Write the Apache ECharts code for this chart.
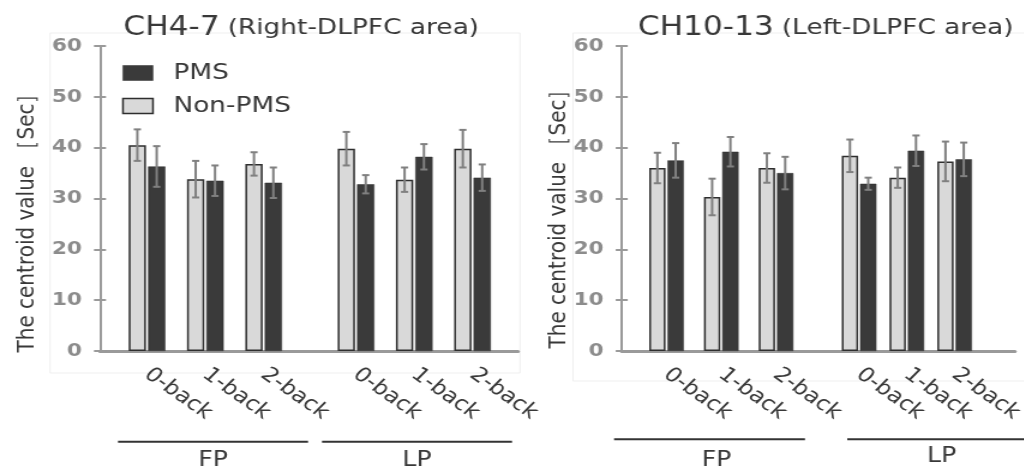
<!DOCTYPE html>
<html>
<head>
<meta charset="utf-8">
<script src="https://cdn.jsdelivr.net/npm/echarts@6/dist/echarts.min.js"></script>
<style>
  html, body { margin: 0; padding: 0; background: #fff; overflow: hidden; }
  #wrap { width: 1024px; height: 472px; overflow: hidden; }
  /* the figure is laid out on a narrower canvas and widened to the page */
  #chart { width: 853.33px; height: 472px; transform: scaleX(1.2); transform-origin: 0 0; }
</style>
</head>
<body>
<div id="wrap"><div id="chart"></div></div>
<script>
// task conditions on the x axis
const categories = ['0-back', '1-back', '2-back'];
const periods = ['FP', 'LP'];

// CH4-7 (right DLPFC): mean centroid value and error, per period
const ch47FpNonPms = [40.5, 33.8, 36.8];
const ch47FpNonPmsErr = [3.1, 3.6, 2.3];
const ch47FpPms = [36.3, 33.5, 33.1];
const ch47FpPmsErr = [4.0, 3.0, 3.0];
const ch47LpNonPms = [39.8, 33.7, 39.8];
const ch47LpNonPmsErr = [3.3, 2.4, 3.7];
const ch47LpPms = [32.8, 38.2, 34.1];
const ch47LpPmsErr = [1.8, 2.5, 2.6];

// CH10-13 (left DLPFC)
const ch1013FpNonPms = [36.0, 30.3, 36.0];
const ch1013FpNonPmsErr = [3.0, 3.6, 2.9];
const ch1013FpPms = [37.5, 39.2, 35.0];
const ch1013FpPmsErr = [3.4, 2.9, 3.2];
const ch1013LpNonPms = [38.4, 34.1, 37.3];
const ch1013LpNonPmsErr = [3.2, 2.0, 3.9];
const ch1013LpPms = [32.9, 39.4, 37.7];
const ch1013LpPmsErr = [1.2, 3.0, 3.3];

const yMin = 0, yMax = 60, yStep = 10;
const yAxisName = 'The centroid value ［Sec］';
const panelTitles = [['CH4-7', '(Right-DLPFC area)'], ['CH10-13', '(Left-DLPFC area)']];

const FONT = 'DejaVu Sans';
const TEXT = '#383838';
const AXIS = '#9a9a9a';
const NON_FILL = '#d9d9d9';
const PMS_FILL = '#3a3a3a';
const ERR = '#808080';

// panel geometry (canvas px)
const TOP = 46, HEIGHT = 305;
const panels = [
  { axisLeft: 83.3, axisRight: 431.7, fp: [98.2, 244.0], lp: [272.4, 418.0], barWidth: 14.4,
    title: panelTitles[0], titleX: 251, nameX: 22.5, nameY: 218,
    data: {
      FP: { non: ch47FpNonPms, nonErr: ch47FpNonPmsErr, pms: ch47FpPms, pmsErr: ch47FpPmsErr },
      LP: { non: ch47LpNonPms, nonErr: ch47LpNonPmsErr, pms: ch47LpPms, pmsErr: ch47LpPmsErr }
    },
    lines: { y: 441.7, FP: [98.3, 256.7], LP: [268.3, 426.7] },
    labels: { FP: [177.5, 461], LP: [347.5, 461] },
    frame: [41.7, 33, 391.6, 340] },
  { axisLeft: 518.1, axisRight: 845.8, fp: [532.6, 669.5], lp: [696.0, 832.8], barWidth: 13.6,
    title: panelTitles[1], titleX: 688, nameX: 466, nameY: 214,
    data: {
      FP: { non: ch1013FpNonPms, nonErr: ch1013FpNonPmsErr, pms: ch1013FpPms, pmsErr: ch1013FpPmsErr },
      LP: { non: ch1013LpNonPms, nonErr: ch1013LpNonPmsErr, pms: ch1013LpPms, pmsErr: ch1013LpPmsErr }
    },
    lines: { y: 439.3, FP: [511.7, 670.8], LP: [706.0, 860] },
    labels: { FP: [597, 461], LP: [784.7, 457] },
    frame: [477.5, 33, 400, 348] }
];

const BAR_GAP = 0.12; // gap between the paired bars, as a share of bar width

const grid = [], xAxis = [], yAxis = [], series = [], graphic = [];

function errorBars(name, values, errs, xIdx, yIdx, side, barWidth) {
  const offset = side * (barWidth * (1 + BAR_GAP)) / 2;
  return {
    type: 'custom', name: name + ' error', xAxisIndex: xIdx, yAxisIndex: yIdx, z: 5,
    silent: true,
    data: values.map((v, i) => [i, v, errs[i]]),
    encode: { x: 0, y: 1 },
    renderItem: function (params, api) {
      const i = api.value(0), v = api.value(1), e = api.value(2);
      const hi = api.coord([i, v + e]);
      const lo = api.coord([i, v - e]);
      const x = hi[0] + offset, cap = 3;
      const style = { stroke: ERR, lineWidth: 2 };
      return { type: 'group', children: [
        { type: 'line', shape: { x1: x, y1: hi[1], x2: x, y2: lo[1] }, style },
        { type: 'line', shape: { x1: x - cap, y1: hi[1], x2: x + cap, y2: hi[1] }, style },
        { type: 'line', shape: { x1: x - cap, y1: lo[1], x2: x + cap, y2: lo[1] }, style }
      ]};
    }
  };
}

panels.forEach((p, pi) => {
  const g0 = grid.length;
  // frame grid carrying the y scale and the baseline
  grid.push({ left: p.axisLeft, top: TOP, width: p.axisRight - p.axisLeft, height: HEIGHT });
  xAxis.push({ gridIndex: g0, type: 'value', min: 0, max: 1, axisLine: { show: true, onZero: false, lineStyle: { color: AXIS, width: 3 } },
    axisTick: { show: false }, axisLabel: { show: false }, splitLine: { show: false } });
  yAxis.push({ gridIndex: g0, type: 'value', position: 'left', offset: 0, min: yMin, max: yMax, interval: yStep,
    axisLine: { show: true, lineStyle: { color: AXIS, width: 2 } },
    axisTick: { show: true, length: 5, lineStyle: { color: AXIS, width: 2 } },
    axisLabel: { margin: 15, color: '#8c8c8c', fontFamily: FONT, fontWeight: 'bold', fontSize: 18 },
    splitLine: { show: false } });
  // inward half of the cross-shaped ticks
  yAxis.push({ gridIndex: g0, type: 'value', position: 'left', offset: 0, min: yMin, max: yMax, interval: yStep,
    axisLine: { show: false },
    axisTick: { show: true, inside: true, length: 5, lineStyle: { color: AXIS, width: 2 } },
    axisLabel: { show: false }, splitLine: { show: false } });

  periods.forEach((per, k) => {
    const span = k === 0 ? p.fp : p.lp;
    const gi = grid.length;
    grid.push({ left: span[0], top: TOP, width: span[1] - span[0], height: HEIGHT });
    const xi = xAxis.length;
    xAxis.push({ gridIndex: gi, type: 'category', data: categories,
      axisLine: { show: false }, axisTick: { show: false },
      axisLabel: { rotate: -40, margin: 21, color: TEXT, fontFamily: FONT, fontSize: 20, interval: 0 } });
    const yi = yAxis.length;
    yAxis.push({ gridIndex: gi, type: 'value', min: yMin, max: yMax, interval: yStep, show: false });
    const d = p.data[per];
    series.push({ type: 'bar', name: 'Non-PMS', xAxisIndex: xi, yAxisIndex: yi, data: d.non,
      barWidth: p.barWidth, barGap: (BAR_GAP * 100) + '%',
      itemStyle: { color: NON_FILL, borderColor: '#2e2e2e', borderWidth: 1.5 } });
    series.push({ type: 'bar', name: 'PMS', xAxisIndex: xi, yAxisIndex: yi, data: d.pms,
      barWidth: p.barWidth, barGap: (BAR_GAP * 100) + '%',
      itemStyle: { color: PMS_FILL, borderColor: '#2e2e2e', borderWidth: 0.5 } });
    series.push(errorBars('Non-PMS', d.non, d.nonErr, xi, yi, -1, p.barWidth));
    series.push(errorBars('PMS', d.pms, d.pmsErr, xi, yi, 1, p.barWidth));

    // period bracket line and label under the conditions
    const ln = p.lines[per];
    graphic.push({ type: 'line', shape: { x1: ln[0], y1: p.lines.y, x2: ln[1], y2: p.lines.y },
      style: { stroke: '#333', lineWidth: 2 } });
    graphic.push({ type: 'text', x: p.labels[per][0], y: p.labels[per][1],
      style: { text: per, align: 'center', verticalAlign: 'middle', fill: TEXT, font: '21px "' + FONT + '"' } });
  });

  // faint chart-area frame
  graphic.push({ type: 'rect', z: -10, shape: { x: p.frame[0], y: p.frame[1], width: p.frame[2], height: p.frame[3] },
    style: { fill: null, stroke: '#efefef', lineWidth: 1 } });
  // panel title
  graphic.push({ type: 'text', x: p.titleX, y: 28,
    style: { text: '{a|' + p.title[0] + '}  {b|' + p.title[1] + '}', align: 'center', verticalAlign: 'middle',
      rich: { a: { fontSize: 26, fontFamily: FONT, fill: TEXT, color: TEXT },
              b: { fontSize: 22, fontFamily: FONT, fill: TEXT, color: TEXT } } } });
  // y-axis title
  graphic.push({ type: 'text', x: p.nameX, y: p.nameY, rotation: Math.PI / 2,
    style: { text: yAxisName, align: 'center', verticalAlign: 'middle', fill: TEXT, font: '20px "' + FONT + '"' } });
});

const chart = echarts.init(document.getElementById('chart'), null, { renderer: 'canvas' });
chart.setOption({
  backgroundColor: '#fff',
  animation: false,
  grid, xAxis, yAxis, series, graphic,
  legend: {
    orient: 'vertical', left: 101.7, top: 61, padding: 0, itemWidth: 25, itemHeight: 15, itemGap: 9,
    icon: 'rect', selectedMode: false,
    textStyle: { color: TEXT, fontFamily: FONT, fontSize: 22, lineHeight: 24, padding: [0, 0, 0, 12] },
    data: [
      { name: 'PMS', itemStyle: { color: PMS_FILL, borderColor: '#2e2e2e', borderWidth: 0.5 } },
      { name: 'Non-PMS', itemStyle: { color: NON_FILL, borderColor: '#2e2e2e', borderWidth: 1.5 } }
    ]
  }
});
</script>
</body>
</html>
